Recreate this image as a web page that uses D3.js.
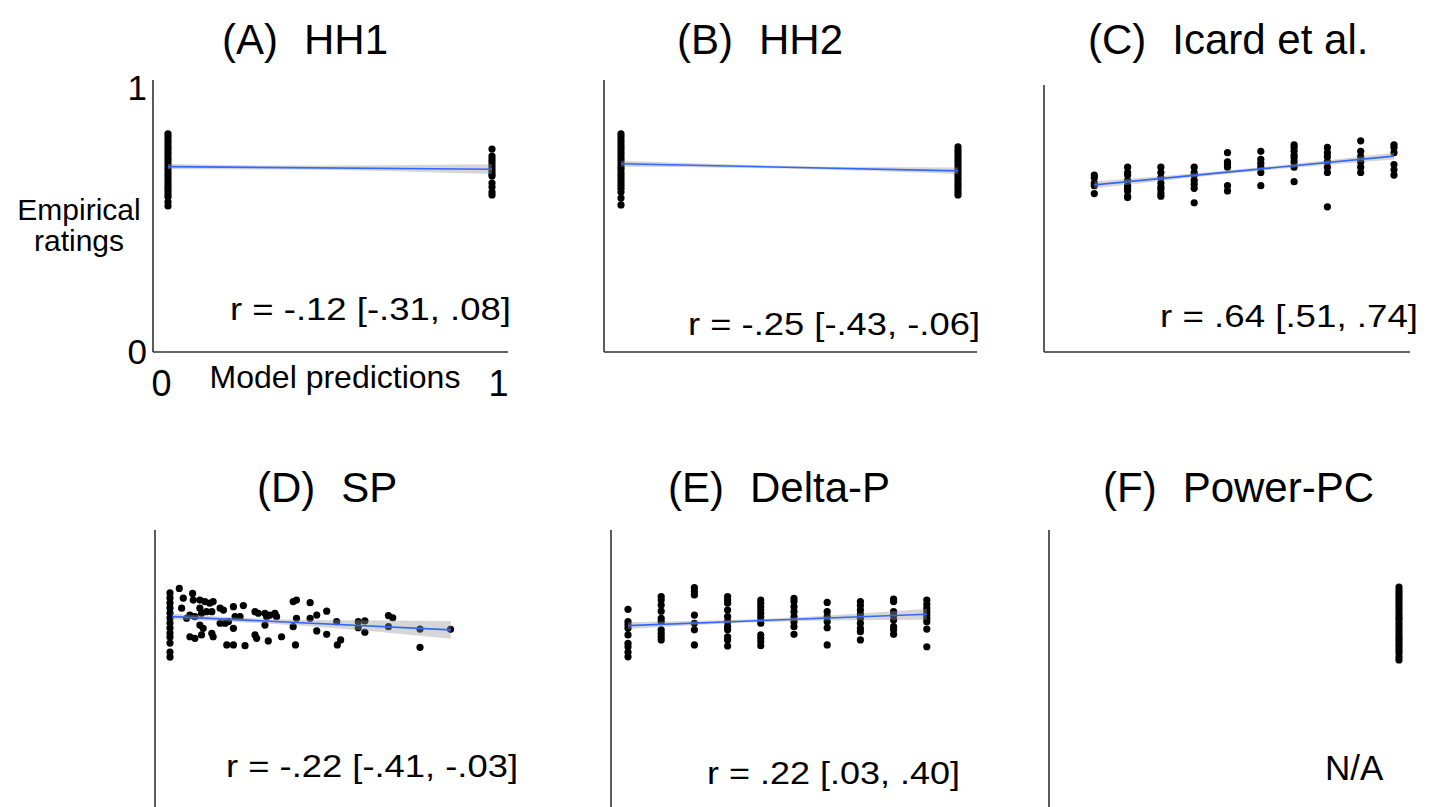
<!DOCTYPE html>
<html>
<head>
<meta charset="utf-8">
<script src="https://cdn.jsdelivr.net/npm/d3@7"></script>
<style>
  body { margin: 0; background: #fff; }
  text { font-family: "Liberation Sans", Arial, Helvetica, sans-serif; fill: #000; }
</style>
</head>
<body>
<svg id="chart" width="1438" height="807"></svg>
<script>
// ---- panel labels ----
var panelTags  = ["(A)", "(B)", "(C)", "(D)", "(E)", "(F)"];
var panelNames = ["HH1", "HH2", "Icard et al.", "SP", "Delta-P", "Power-PC"];
var rLabels    = ["r = -.12 [-.31, .08]", "r = -.25 [-.43, -.06]", "r = .64 [.51, .74]",
                  "r = -.22 [-.41, -.03]", "r = .22 [.03, .40]", "N/A"];

// ---- (A) HH1: ratings at model prediction 0 and 1 ----
var hh1Zero = [0.826,0.815,0.803,0.792,0.78,0.77,0.758,0.747,0.735,0.724,0.712,0.70,0.69,
               0.678,0.667,0.655,0.644,0.632,0.62,0.61,0.598,0.587,0.568,0.553];
var hh1One  = [0.769,0.742,0.731,0.72,0.708,0.697,0.686,0.674,0.667,0.64,0.625,0.606,0.595];

// ---- (B) HH2 ----
var hh2Zero = [0.826,0.815,0.803,0.792,0.78,0.77,0.758,0.747,0.735,0.724,0.712,0.70,0.69,
               0.678,0.667,0.655,0.644,0.632,0.62,0.606,0.583,0.557];
var hh2One  = [0.777,0.765,0.754,0.742,0.731,0.72,0.708,0.697,0.686,0.674,0.663,0.652,
               0.64,0.629,0.618,0.606,0.595];

// ---- (C) Icard et al.: one column of ratings per prediction level ----
var icardX = [0.1, 0.2, 0.3, 0.4, 0.5, 0.6, 0.7, 0.8, 0.9, 1.0];
var icardY = [
  [0.67, 0.66, 0.64, 0.63, 0.60],
  [0.70, 0.68, 0.67, 0.65, 0.63, 0.62, 0.61, 0.59, 0.585],
  [0.70, 0.68, 0.66, 0.64, 0.625, 0.615, 0.60, 0.59],
  [0.70, 0.68, 0.67, 0.65, 0.635, 0.62, 0.565],
  [0.755, 0.72, 0.71, 0.70, 0.63, 0.61],
  [0.76, 0.73, 0.715, 0.70, 0.68, 0.63],
  [0.785, 0.775, 0.76, 0.745, 0.735, 0.72, 0.70, 0.645],
  [0.775, 0.755, 0.74, 0.72, 0.70, 0.68, 0.55],
  [0.80, 0.76, 0.74, 0.72, 0.70, 0.68],
  [0.785, 0.775, 0.755, 0.71, 0.69, 0.67]
];

// ---- (D) SP: scattered [prediction, rating] ----
var spPoints = [
  [0,0.792],[0,0.773],[0,0.754],[0,0.735],[0,0.716],[0,0.697],[0,0.678],[0,0.659],
  [0,0.640],[0,0.625],[0,0.602],[0,0.568],[0,0.549],
  [0.028,0.809],[0.040,0.772],[0.035,0.734],[0.068,0.790],[0.070,0.765],[0.090,0.765],
  [0.105,0.759],[0.120,0.753],[0.130,0.759],[0.090,0.734],[0.095,0.715],[0.110,0.721],
  [0.126,0.721],[0.151,0.734],[0.161,0.727],[0.191,0.740],[0.221,0.744],[0.196,0.702],
  [0.211,0.702],[0.050,0.696],[0.060,0.708],[0.075,0.702],[0.090,0.670],[0.100,0.658],
  [0.060,0.626],[0.075,0.620],[0.095,0.633],[0.126,0.639],[0.130,0.626],[0.151,0.677],
  [0.166,0.677],[0.176,0.683],[0.191,0.658],[0.171,0.595],[0.191,0.595],[0.226,0.592],
  [0.256,0.721],[0.266,0.715],[0.286,0.715],[0.291,0.702],[0.301,0.708],[0.316,0.715],
  [0.321,0.702],[0.256,0.633],[0.261,0.620],[0.286,0.670],[0.296,0.610],[0.336,0.626],
  [0.371,0.759],[0.381,0.765],[0.381,0.696],[0.371,0.664],[0.378,0.595],
  [0.422,0.755],[0.422,0.696],[0.442,0.708],[0.442,0.648],[0.472,0.723],[0.472,0.635],
  [0.502,0.683],[0.504,0.595],[0.514,0.614],[0.567,0.683],[0.567,0.660],[0.587,0.686],
  [0.587,0.643],[0.658,0.706],[0.671,0.698],[0.658,0.664],[0.753,0.655],[0.753,0.586],
  [0.845,0.654]
];

// ---- (E) Delta-P ----
var deltaX = [0, 0.1, 0.2, 0.3, 0.4, 0.5, 0.6, 0.7, 0.8, 0.9];
var deltaY = [
  [0.730, 0.683, 0.670, 0.658, 0.633, 0.601, 0.588, 0.567, 0.550],
  [0.778, 0.765, 0.746, 0.723, 0.696, 0.683, 0.652, 0.639, 0.626, 0.614],
  [0.812, 0.797, 0.784, 0.708, 0.677, 0.652, 0.595],
  [0.778, 0.765, 0.753, 0.727, 0.702, 0.683, 0.664, 0.652, 0.626, 0.614, 0.591],
  [0.765, 0.753, 0.740, 0.727, 0.715, 0.702, 0.689, 0.677, 0.633, 0.620, 0.607, 0.592],
  [0.771, 0.759, 0.740, 0.721, 0.702, 0.683, 0.664, 0.635],
  [0.756, 0.721, 0.702, 0.683, 0.660, 0.595],
  [0.759, 0.744, 0.727, 0.711, 0.696, 0.677, 0.658, 0.645, 0.614],
  [0.769, 0.759, 0.721, 0.706, 0.689, 0.664, 0.652, 0.635],
  [0.765, 0.749, 0.734, 0.721, 0.708, 0.696, 0.683, 0.655, 0.588]
];

// ---- (F) Power-PC: every prediction is 1 ----
var powerPC = [0.814,0.803,0.792,0.78,0.77,0.758,0.747,0.735,0.724,0.712,0.70,0.69,0.678,
               0.667,0.655,0.644,0.632,0.62,0.61,0.598,0.587,0.575,0.564,0.55,0.538];

// ---- fitted lines [x, y] and their 95% bands [x, lo, hi] ----
var fitA = [[0, 0.702], [1, 0.692]];
var bandA = [[0, 0.692, 0.712], [0.35, 0.691, 0.706], [1, 0.674, 0.711]];
var fitB = [[0, 0.713], [1, 0.686]];
var bandB = [[0, 0.702, 0.724], [0.5, 0.694, 0.705], [1, 0.674, 0.699]];
var fitC = [[0.1, 0.633], [1.0, 0.742]];
var bandC = [[0.1, 0.620, 0.646], [0.55, 0.681, 0.694], [1.0, 0.729, 0.755]];
var fitD = [[0.007, 0.702], [0.846, 0.652]];
var bandD = [[0.007, 0.691, 0.713], [0.2, 0.682, 0.699], [0.5, 0.658, 0.688], [0.846, 0.618, 0.686]];
var fitE = [[0, 0.668], [0.9, 0.711]];
var bandE = [[0, 0.655, 0.681], [0.45, 0.683, 0.696], [0.9, 0.690, 0.732]];

function columns(xs, ys) {
  var out = [];
  xs.forEach(function(x, k) { ys[k].forEach(function(y) { out.push([x, y]); }); });
  return out;
}

var series = [
  { pts: columns([0, 1], [hh1Zero, hh1One]), fit: fitA, band: bandA },
  { pts: columns([0, 1], [hh2Zero, hh2One]), fit: fitB, band: bandB },
  { pts: columns(icardX, icardY), fit: fitC, band: bandC },
  { pts: spPoints, fit: fitD, band: bandD },
  { pts: columns(deltaX, deltaY), fit: fitE, band: bandE },
  { pts: columns([1], [powerPC]), fit: null, band: null }
];

// ---- layout (pixels); the r labels sit in stretched plot images, rw = drawn width ----
var layout = [
  { tx: 222,  ty: 54,  x0: 168,  x1: 492,  yb: 352, yt: 88,  axX: 153,  axTop: 80,  axBot: 352, axRight: 508,  rx: 230,  rw: 281, ry: 320 },
  { tx: 677,  ty: 54,  x0: 621,  x1: 958,  yb: 352, yt: 88,  axX: 604,  axTop: 80,  axBot: 352, axRight: 977,  rx: 688,  rw: 292, ry: 335 },
  { tx: 1088, ty: 54,  x0: 1061, x1: 1394, yb: 352, yt: 88,  axX: 1044, axTop: 85,  axBot: 352, axRight: 1410, rx: 1160, rw: 258, ry: 327 },
  { tx: 257,  ty: 502, x0: 170,  x1: 502,  yb: 802, yt: 538, axX: 155,  axTop: 530, axBot: 815, axRight: null, rx: 226,  rw: 292, ry: 777 },
  { tx: 668,  ty: 502, x0: 628,  x1: 960,  yb: 802, yt: 538, axX: 611,  axTop: 530, axBot: 815, axRight: null, rx: 707,  rw: 253, ry: 784 },
  { tx: 1103, ty: 502, x0: 1066, x1: 1399, yb: 802, yt: 538, axX: 1049, axTop: 530, axBot: 815, axRight: null, rx: 1325, rw: null, ry: 780 }
];

var svg = d3.select("#chart");

series.forEach(function(s, i) {
  var L = layout[i];
  var x = d3.scaleLinear().domain([0, 1]).range([L.x0, L.x1]);
  var y = d3.scaleLinear().domain([0, 1]).range([L.yb, L.yt]);
  var g = svg.append("g");

  // title: tag then name
  var tag = g.append("text").attr("x", L.tx).attr("y", L.ty).style("font-size", "42px").text(panelTags[i]);
  g.append("text").attr("x", L.tx + tag.node().getComputedTextLength() + 26).attr("y", L.ty)
    .style("font-size", "42px").text(panelNames[i]);

  // axes lines
  g.append("line").attr("x1", L.axX).attr("x2", L.axX).attr("y1", L.axTop).attr("y2", L.axBot)
    .style("stroke", "#333").style("stroke-width", 1.6);
  if (L.axRight) {
    g.append("line").attr("x1", L.axX).attr("x2", L.axRight).attr("y1", L.axBot).attr("y2", L.axBot)
      .style("stroke", "#333").style("stroke-width", 1.6);
  }

  // points
  g.selectAll("circle").data(s.pts).enter().append("circle")
    .attr("cx", function(d) { return x(d[0]); })
    .attr("cy", function(d) { return y(d[1]); })
    .attr("r", 3.6)
    .style("fill", "#000");

  // confidence band then fitted line
  if (s.band) {
    var area = d3.area().curve(d3.curveMonotoneX)
      .x(function(d) { return x(d[0]); })
      .y0(function(d) { return y(d[1]); })
      .y1(function(d) { return y(d[2]); });
    g.append("path").attr("d", area(s.band))
      .style("fill", "#999").style("fill-opacity", 0.4);
    var line = d3.line().x(function(d) { return x(d[0]); }).y(function(d) { return y(d[1]); });
    g.append("path").attr("d", line(s.fit))
      .style("fill", "none").style("stroke", "#3366FF").style("stroke-width", 1.6);
  }

  // correlation label
  var r = g.append("text").attr("x", L.rx).attr("y", L.ry).text(rLabels[i]);
  if (L.rw) {
    r.style("font-size", "32px").attr("textLength", L.rw).attr("lengthAdjust", "spacingAndGlyphs");
  } else {
    r.style("font-size", "35px");
  }

  // tick labels and axis titles only on the first panel
  if (i === 0) {
    var ax = d3.axisLeft(y).tickValues([0, 1]).tickSize(0).tickPadding(6).tickFormat(d3.format("d"));
    var ay = g.append("g").attr("transform", "translate(" + L.axX + ",0)").call(ax);
    ay.select(".domain").remove();
    ay.selectAll("text").style("font-size", "35px").style("font-family", null);

    var xt = d3.scaleLinear().domain([0, 1]).range([L.x0 - 7, L.x1 + 6]);
    var bx = d3.axisBottom(xt).tickValues([0, 1]).tickSize(0).tickPadding(18).tickFormat(d3.format("d"));
    var bg = g.append("g").attr("transform", "translate(0," + L.axBot + ")").call(bx);
    bg.select(".domain").remove();
    bg.selectAll("text").style("font-size", "36px").style("font-family", null);

    g.append("text").attr("x", 335).attr("y", 388).attr("text-anchor", "middle")
      .style("font-size", "32px").text("Model predictions");
    g.append("text").attr("x", 79).attr("y", 220).attr("text-anchor", "middle")
      .style("font-size", "30px").text("Empirical");
    g.append("text").attr("x", 79).attr("y", 251).attr("text-anchor", "middle")
      .style("font-size", "30px").text("ratings");
  }
});
</script>
</body>
</html>
